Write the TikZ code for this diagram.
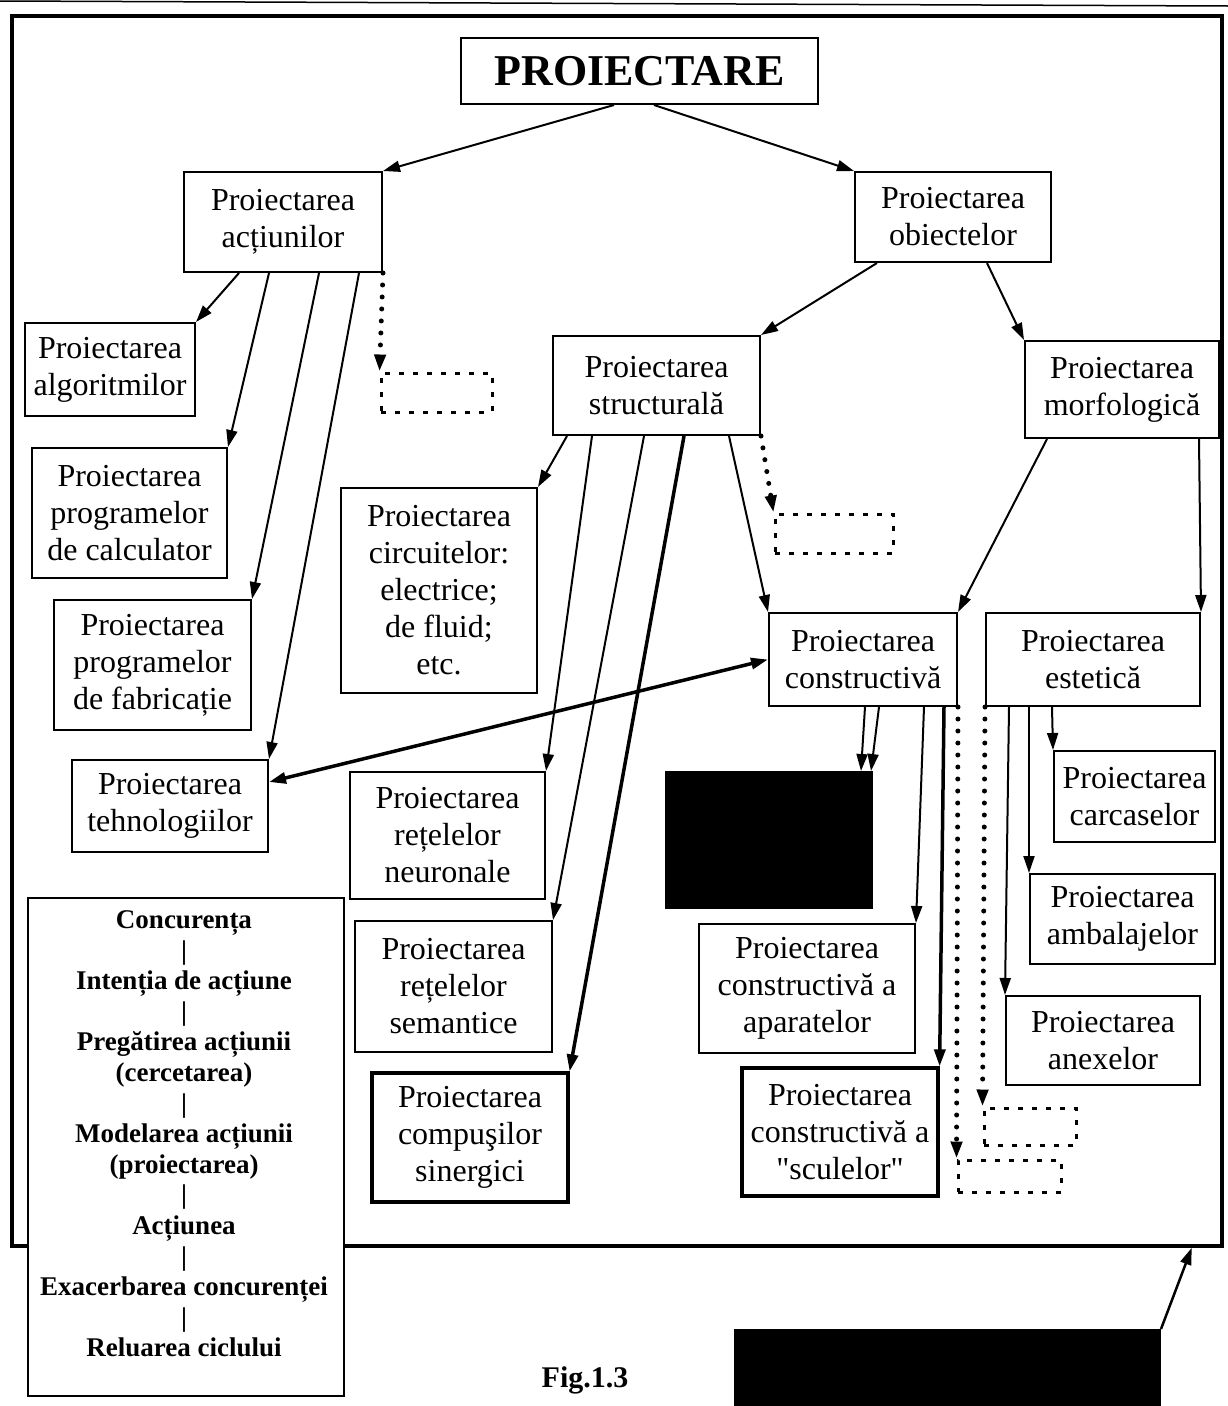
\documentclass[tikz,border=0pt]{standalone}
\usepackage{fontspec}
\setmainfont{Liberation Serif}
\usetikzlibrary{arrows.meta,calc}

% box given by its left, top, right and bottom edges (y grows downwards)
\newcommand\drawbox[7][]{%
  \node[box,#1,minimum width={(#5-#3)*1pt},minimum height={(#6-#4)*1pt}]
    (#2) at ({(#3+#5)/2},{(#4+#6)/2}) {#7};}

\begin{document}
\begin{tikzpicture}[x=1pt,y=-1pt,
  box/.style={draw,line width=2pt,fill=white,inner sep=0pt,align=center,
              font=\fontsize{32}{37}\selectfont},
  thickbox/.style={line width=3.2pt},
  dotbox/.style={draw,line width=3pt,dash pattern=on 5pt off 9pt,
                 fill=none,font=\normalsize},
  tip/.tip={Triangle[length=17pt,width=11pt]},
  arr/.style={line width=2pt,-tip},
  thickarr/.style={line width=3.5pt,-tip},
  dotarr/.style={line width=5pt,line cap=round,dash pattern=on 0pt off 12pt,-tip},
]
\useasboundingbox (0,0) rectangle (1228,1406);

% page edge and outer frame
\draw[line width=1.5pt] (0,1) -- (1228,6);
\node[draw,line width=3.5pt,inner sep=0pt,minimum width=1210pt,
      minimum height=1230pt] (frame) at (617,631) {};

% boxes
\drawbox[font=\bfseries\fontsize{44}{50}\selectfont]{root}{461}{38}{818}{104}{PROIECTARE}
\drawbox{act}{184}{172}{382}{272}{Proiectarea\\acțiunilor}
\drawbox{obj}{855}{172}{1051}{262}{Proiectarea\\obiectelor}
\drawbox{alg}{25}{323}{195}{416}{Proiectarea\\algoritmilor}
\drawbox[dotbox]{d1}{381}{373}{492}{412}{}
\drawbox{struct}{553}{336}{760}{435}{Proiectarea\\structurală}
\drawbox{morf}{1025}{341}{1219}{438}{Proiectarea\\morfologică}
\drawbox{calc}{32}{448}{227}{578}{Proiectarea\\programelor\\de calculator}
\drawbox{circ}{341}{488}{537}{693}{Proiectarea\\circuitelor:\\electrice;\\de fluid;\\etc.}
\drawbox[dotbox]{d2}{775}{514}{893}{553}{}
\drawbox{fab}{54}{600}{251}{730}{Proiectarea\\programelor\\de fabricație}
\drawbox{constr}{769}{613}{957}{706}{Proiectarea\\constructivă}
\drawbox{est}{986}{613}{1200}{706}{Proiectarea\\estetică}
\drawbox{tehn}{72}{760}{268}{852}{Proiectarea\\tehnologiilor}
\drawbox{neur}{350}{772}{545}{899}{Proiectarea\\rețelelor\\neuronale}
\drawbox[fill=black]{blk}{666}{772}{872}{908}{}
\drawbox{carc}{1054}{751}{1215}{842}{Proiectarea\\carcaselor}
\drawbox{amb}{1030}{874}{1215}{964}{Proiectarea\\ambalajelor}
\drawbox{sem}{355}{921}{552}{1052}{Proiectarea\\rețelelor\\semantice}
\drawbox{apar}{699}{924}{915}{1053}{Proiectarea\\constructivă a\\aparatelor}
\drawbox{anex}{1006}{996}{1200}{1085}{Proiectarea\\anexelor}
\drawbox[thickbox]{comp}{372}{1073}{568}{1202}{Proiectarea\\compuşilor\\sinergici}
\drawbox[thickbox]{scul}{742}{1068}{938}{1196}{Proiectarea\\constructivă a\\\textquotedbl sculelor\textquotedbl}
\drawbox[dotbox]{d3}{984}{1108}{1076}{1145}{}
\drawbox[dotbox]{d4}{958}{1160}{1061}{1192}{}

% the action cycle
\drawbox[line width=2.5pt]{cyc}{28}{898}{344}{1396}{}
\node[font=\bfseries\fontsize{27}{30.6}\selectfont,align=center,inner sep=0pt]
  (cyctxt) at (184,1134)
  {Concurența\\|\\Intenția de acțiune\\|\\Pregătirea acțiunii\\(cercetarea)\\|\\
   Modelarea acțiunii\\(proiectarea)\\|\\Acțiunea\\|\\Exacerbarea concurenței\\|\\
   Reluarea ciclului};

\node[font=\bfseries\fontsize{30}{34}\selectfont,inner sep=0pt] (fig) at (585,1380) {Fig.1.3};
\drawbox[fill=black]{blk2}{735}{1330}{1160}{1410}{}

% connectors
\draw[arr] ([xshift=154pt]root.south west) -- (act.north east);
\draw[arr] ([xshift=194pt]root.south west) -- (obj.north west);

\draw[arr] ([xshift=56pt]act.south west) -- (alg.north east);
\draw[arr] ([xshift=86pt]act.south west) -- (calc.north east);
\draw[arr] ([xshift=136pt]act.south west) -- (fab.north east);
\draw[arr] ([xshift=176pt]act.south west) -- (tehn.north east);
\draw[dotarr] (act.south east) -- (d1.north west);

\draw[arr] ([xshift=23pt]obj.south west) -- (struct.north east);
\draw[arr] ([xshift=133pt]obj.south west) -- (morf.north west);

\draw[arr] ([xshift=15pt]struct.south west) -- (circ.north east);
\draw[arr] ([xshift=40pt]struct.south west) -- (neur.north east);
\draw[arr] ([xshift=92pt]struct.south west) -- (sem.north east);
\draw[thickarr] ([xshift=132pt]struct.south west) -- (comp.north east);
\draw[arr] ([xshift=177pt]struct.south west) -- (constr.north west);
\draw[dotarr] (struct.south east) -- (d2.north west);

\draw[arr] ([xshift=23pt]morf.south west) -- (constr.north east);
\draw[arr] ([xshift=175pt]morf.south west) -- (est.north east);

\draw[line width=3.5pt,tip-tip] ([yshift=24pt]tehn.east) -- (constr.west);

\draw[arr] ([xshift=97pt]constr.south west) -- ([xshift=-12pt]blk.north east);
\draw[arr] ([xshift=111pt]constr.south west) -- ([xshift=-2pt]blk.north east);
\draw[arr] ([xshift=156pt]constr.south west) -- (apar.north east);
\draw[thickarr] ([xshift=176pt]constr.south west) -- (scul.north east);
\draw[dotarr] (constr.south east) -- (d4.north west);

\draw[dotarr] (est.south west) -- (d3.north west);
\draw[arr] ([xshift=24pt]est.south west) -- (anex.north west);
\draw[arr] ([xshift=44pt]est.south west) -- (amb.north west);
\draw[arr] ([xshift=67pt]est.south west) -- (carc.north west);

\draw[line width=2.5pt,-tip] (blk2.north east) -- ([xshift=-32pt]frame.south east);
\end{tikzpicture}
\end{document}
